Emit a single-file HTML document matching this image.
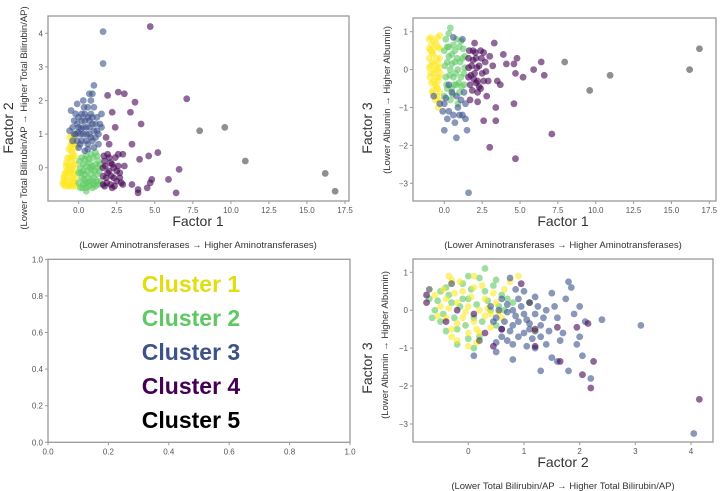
<!DOCTYPE html>
<html><head><meta charset="utf-8"><style>
body{margin:0;background:#fff;}
svg{display:block;font-family:"Liberation Sans",sans-serif;}
</style></head><body>
<svg id="c" width="720" height="491" viewBox="0 0 720 491"></svg>
<script>
const clusterColors=["#fde725","#5ec962","#3b528b","#440154","#444444"];
const ticks1X=[0,2.5,5,7.5,10,12.5,15,17.5];
const ticks1XLabels=["0.0","2.5","5.0","7.5","10.0","12.5","15.0","17.5"];
const ticks2Y=[0,1,2,3,4];
const ticks3Y=[-3,-2,-1,0,1];
const ticksF2X=[0,1,2,3,4];
const ticksLegend=[0,0.2,0.4,0.6,0.8,1.0];
const ticksLegendLabels=["0.0","0.2","0.4","0.6","0.8","1.0"];
const legendLabels=["Cluster 1","Cluster 2","Cluster 3","Cluster 4","Cluster 5"];
const legendColors=["#e3dd10","#5ec962","#3b528b","#440154","#000000"];

// Panel A: Factor1 vs Factor2
const pA_c1=[[-1,-0.5],[-0.9,-0.3],[-0.8,-0.1],[-0.7,0.1],[-0.6,0.3],[-0.5,0.5],[-0.4,0.7],[-0.3,0.9],[-0.9,-0.55],[-0.7,-0.55],[-0.5,-0.5],[-0.3,-0.5],[-0.2,-0.3],[-0.25,-0.1],[-0.3,0.1],[-0.35,0.3],[-0.45,0.2],[-0.55,0],[-0.6,-0.2],[-0.75,-0.35],[-0.4,-0.3],[-0.5,-0.1],[-0.65,0.55],[-0.45,0.75],[-0.85,-0.15],[-0.95,-0.4],[-0.2,-0.55],[-0.6,-0.4],[-0.4,0.45],[-0.3,-0.2],
[-1.05,-0.45],[-0.95,-0.2],[-0.85,0.05],[-0.75,0.3],[-0.8,-0.5],[-0.6,-0.55],[-0.4,-0.55],[-0.25,0.35],[-0.2,0.6],[-0.3,0.7],[-0.55,0.65],[-0.5,0.3],[-0.7,-0.15],[-0.45,-0.05],[-0.35,-0.4],[-0.2,0.1],[-0.6,0.9],[-0.45,0.95],[-0.25,-0.45],[-1.0,-0.3],[-0.8,0.15],[-0.65,0.0]];
const pA_c2=[[0.1,-0.6],[0.3,-0.5],[0.5,-0.6],[0.7,-0.55],[0.9,-0.6],[1.1,-0.55],[1.3,-0.5],[0.2,-0.3],[0.4,-0.2],[0.6,-0.3],[0.8,-0.2],[1.0,-0.3],[1.2,-0.2],[1.35,-0.1],[0.1,0],[0.3,0.1],[0.5,0.05],[0.7,0.15],[0.9,0.05],[1.1,0.1],[1.3,0.2],[0.2,0.3],[0.5,0.35],[0.8,0.4],[1.1,0.45],[0.5,-0.7],[0.0,-0.45],[1.4,-0.4],[0.6,-0.45],[0.95,-0.4],
[0.0,-0.15],[0.15,-0.15],[0.35,-0.35],[0.55,-0.1],[0.75,-0.4],[0.85,-0.05],[1.05,-0.1],[1.25,0.0],[1.2,-0.4],[0.4,0.25],[0.65,0.25],[0.95,0.3],[1.2,0.35],[0.05,0.2],[0.25,-0.6],[0.75,0.0],[1.0,-0.5],[0.45,-0.45],[0.3,-0.1],[1.4,0.1]];
const pA_c3=[[-0.4,0.8],[-0.2,1.0],[0,1.2],[0.2,1.4],[0.4,1.6],[0.6,1.8],[0.8,2.0],[-0.3,1.4],[-0.5,1.7],[-0.1,1.9],[0.3,2.0],[1.0,1.8],[1.2,1.5],[1.4,1.3],[1.0,1.1],[0.8,0.9],[0.6,0.7],[0.4,0.5],[0.2,0.8],[0,0.6],[0.5,1.2],[0.7,1.4],[0.9,1.5],[1.1,0.9],[1.3,0.7],[-0.1,1.3],[0.3,1.0],[0.7,1.0],[1.5,1.2],[0.9,2.2],[0.7,2.2],[1.0,2.45],[1.6,4.05],[1.6,3.1],[1.5,1.6],[-0.6,1.1],
[-0.3,1.0],[-0.1,0.8],[0.1,1.0],[0.3,1.2],[0.5,1.0],[0.7,1.2],[0.9,1.3],[1.1,1.3],[0.2,1.6],[0.0,1.5],[-0.2,1.6],[0.4,1.4],[0.6,1.5],[0.8,1.6],[1.2,1.1],[0.1,0.7],[0.5,0.8],[0.9,0.8],[1.3,1.0],[-0.4,1.2],[0.35,1.8],[0.15,1.15],[-0.05,1.05],[0.6,0.55],[1.0,0.6]];
const pA_c4=[[1.6,-0.5],[1.8,-0.3],[2.0,-0.1],[2.2,0.1],[2.4,0.3],[1.7,0.2],[1.9,0.4],[2.1,-0.5],[2.3,-0.3],[2.5,-0.1],[2.7,-0.3],[2.9,-0.5],[1.6,0],[2.6,0.4],[2.0,0.7],[2.2,-0.6],[1.8,0.9],[2.4,1.2],[2.8,-0.45],[3.5,-0.5],[4.7,4.2],[2.6,2.25],[3.0,2.2],[1.9,2.15],[7.1,2.05],[3.7,1.95],[2.2,1.65],[3.4,1.65],[4.1,1.3],[3.5,0.7],[5.2,0.45],[4.6,0.35],[4.0,0.25],[3.0,0.05],[6.6,-0.05],[4.8,-0.35],[5.9,-0.35],[4.7,-0.45],[4.5,-0.6],[3.9,-0.65],[3.9,-0.75],[6.4,-0.75],[2.9,0.4],
[1.6,-0.25],[1.7,-0.55],[1.9,-0.15],[2.1,0.15],[2.3,0.0],[2.5,-0.4],[1.65,0.35],[2.0,0.3],[2.35,-0.55],[1.85,-0.45],[2.6,0.05],[2.15,-0.25],[1.75,0.05],[2.7,-0.15]];
const pA_c5=[[7.95,1.1],[9.6,1.2],[10.95,0.2],[16.2,-0.17],[16.85,-0.7]];

// Panel B: Factor1 vs Factor3
const pB_c1=[[-1,0.8],[-0.9,0.5],[-0.8,0.2],[-0.7,-0.1],[-0.6,-0.4],[-0.5,-0.7],[-0.4,-1.0],[-0.3,0.9],[-0.4,0.6],[-0.5,0.3],[-0.6,0],[-0.7,-0.3],[-0.8,-0.6],[-0.9,0.1],[-0.3,0.3],[-0.35,-0.2],[-0.45,-0.5],[-0.55,0.7],[-0.75,0.4],[-0.95,-0.2],[-0.3,-0.6],[-0.85,0.65],[-0.5,0.0],[-0.4,-0.3],
[-1.0,0.55],[-1.0,0.3],[-1.0,0.05],[-0.9,-0.1],[-0.85,-0.35],[-0.8,0.45],[-0.7,0.75],[-0.65,0.15],[-0.55,-0.2],[-0.5,-0.45],[-0.45,0.85],[-0.4,0.15],[-0.35,-0.8],[-0.3,0.55],[-0.25,-0.1],[-0.6,-0.8],[-0.7,0.55],[-0.9,0.85],[-0.75,-0.55],[-0.3,0.05]];
const pB_c2=[[0.1,0.8],[0.3,0.6],[0.5,0.4],[0.7,0.2],[0.9,0],[1.1,-0.2],[1.3,-0.4],[0.2,0.2],[0.4,0],[0.6,-0.2],[0.8,-0.4],[1.0,-0.6],[0.2,-0.5],[0.4,-0.8],[1.2,0.3],[1.0,0.6],[0.8,0.8],[0.6,0.65],[0.1,-0.2],[1.35,0.05],[0.4,1.1],[0.3,0.95],[0.9,-0.9],[0.5,-0.5],
[0.0,0.5],[0.05,0.1],[0.15,-0.4],[0.3,0.35],[0.35,-0.15],[0.5,0.15],[0.55,-0.65],[0.7,0.5],[0.75,-0.1],[0.85,0.3],[0.95,-0.35],[1.05,0.2],[1.15,-0.45],[1.25,0.55],[1.3,-0.1],[0.2,0.6],[0.65,-0.4],[1.1,0.75],[0.0,-0.7],[1.35,0.35]];
const pB_c3=[[0,-0.9],[0.3,-1.1],[0.6,-1.2],[0.9,-1.0],[1.2,-1.2],[0.5,-0.6],[0.8,-0.7],[1.1,-0.8],[1.4,-0.9],[0.2,-1.3],[-0.1,-1.1],[0.7,-1.4],[1.4,-1.3],[0,-1.6],[0.8,-1.8],[1.5,-1.6],[1.6,-3.25],[-0.7,-0.7],[0.6,0.85],[1.2,0.8],[0.3,-0.4],[0.1,-0.75],[1.0,-1.2],[1.3,-0.6],[-0.3,-0.9]];
const pB_c4=[[1.6,0.3],[1.8,0.1],[2.0,-0.1],[2.2,-0.3],[2.4,-0.5],[1.7,-0.4],[1.9,0.5],[2.1,0.3],[2.3,0.1],[2.5,-0.1],[2.7,0.2],[2.9,-0.3],[1.6,-0.2],[2.6,0.45],[2.2,-0.6],[3.3,0.7],[2.0,0.7],[3.9,0.4],[4.8,0.3],[4.1,0.15],[4.6,0.15],[5.9,0.0],[6.4,0.2],[6.6,-0.15],[5.2,-0.2],[4.7,-0.1],[3.5,-0.3],[3.7,-0.4],[2.8,-0.7],[4.6,-0.9],[3.4,-1.0],[2.6,-1.35],[3.4,-1.35],[7.1,-1.7],[3.0,-2.05],[4.7,-2.35],[1.7,-0.8],[2.2,-0.85],[3.2,0.1],
[1.6,0.05],[1.75,-0.15],[1.9,0.25],[2.05,0.45],[2.15,0.05],[2.3,-0.45],[2.45,0.3],[1.85,-0.55],[2.6,-0.3],[2.1,-0.35],[2.4,0.5],[1.65,0.5],[2.75,-0.05],[3.0,0.35],[1.95,-0.25]];
const pB_c5=[[7.95,0.2],[9.6,-0.55],[10.95,-0.15],[16.2,0.0],[16.85,0.55]];

// Panel D: Factor2 vs Factor3
const pD_c2=[[-0.7,0.3],[-0.6,0.0],[-0.5,-0.3],[-0.4,0.6],[-0.3,0.2],[-0.2,-0.5],[-0.1,0.7],[0,0.3],[0.1,-0.2],[0.2,-0.7],[0.3,0.5],[0.4,0.0],[0.5,-0.4],[0.3,1.1],[0.0,0.9],[-0.2,-0.9],[0.1,-1.0],[0.6,0.4],[-0.5,0.5],[0.45,0.65],
[-0.65,-0.2],[-0.55,0.25],[-0.45,-0.1],[-0.35,0.4],[-0.25,-0.2],[-0.15,0.1],[-0.05,-0.4],[0.05,0.55],[0.15,0.15],[0.25,-0.3],[0.35,0.25],[0.55,0.1],[0.65,0.0],[0.7,0.3],[-0.4,-0.55],[0.0,-0.75],[0.2,0.85],[-0.1,0.3],[0.5,0.8],[0.8,0.2]];
const pD_c1=[[-0.6,0.4],[-0.5,0.1],[-0.4,-0.2],[-0.3,-0.5],[-0.2,-0.8],[-0.1,0.5],[0,0.1],[0.1,-0.3],[0.2,-0.6],[0.3,0.3],[0.4,-0.1],[0.5,0.2],[-0.3,0.8],[-0.1,-0.2],[0.0,-0.6],[0.1,0.6],[-0.4,0.3],[0.2,0.0],[0.9,0.9],[0.0,-0.95],[0.6,-0.2],
[-0.55,-0.15],[-0.45,0.55],[-0.35,0.05],[-0.25,0.45],[-0.2,-0.35],[-0.15,0.75],[-0.05,-0.05],[0.05,0.35],[0.15,-0.5],[0.25,0.65],[0.3,-0.15],[0.35,0.05],[0.45,0.45],[0.55,-0.05],[0.65,0.55],[-0.3,-0.7],[0.15,-0.85],[0.4,-0.45],[-0.2,0.2],[0.1,0.9],[-0.35,0.9],[0.75,0.75]];
const pD_c3=[[0.4,0.1],[0.5,-0.2],[0.6,-0.5],[0.7,-0.8],[0.8,0.0],[0.9,-0.3],[1.0,-0.6],[1.1,0.2],[1.2,-0.1],[1.3,-0.4],[0.6,0.3],[0.8,-0.9],[1.0,0.5],[1.4,0.0],[1.5,0.45],[1.6,-0.2],[1.7,-0.6],[1.9,-0.1],[2.0,0.1],[2.1,-0.3],[1.8,0.75],[1.85,0.6],[0.75,0.85],[1.3,-1.6],[1.8,-1.6],[2.2,-1.8],[1.6,-1.35],[2.05,-1.2],[0.8,-1.3],[0.1,-1.2],[2.0,-0.7],[1.95,-0.9],[1.5,-1.25],[2.4,-0.25],[3.1,-0.4],[4.05,-3.25],[1.4,-0.9],[1.2,-1.0],[0.5,-1.1],
[0.55,0.0],[0.65,-0.3],[0.7,0.15],[0.75,-0.55],[0.85,-0.15],[0.9,-0.7],[0.95,0.1],[1.05,-0.25],[1.1,-0.5],[1.15,-0.75],[1.25,0.1],[1.35,-0.2],[1.45,-0.55],[0.6,-0.7],[0.7,-0.05],[0.8,-0.4],[0.9,0.3],[1.0,-0.1],[1.1,-0.35],[1.2,0.35],[1.3,-0.7],[0.5,-0.85],[1.55,0.1],[1.65,-0.8],[1.75,0.3],[0.85,0.55],[0.45,-0.3],[1.05,-0.95]];
const pD_c4=[[4.15,-2.35],[2.2,-2.05],[2.05,-1.7],[2.25,-1.35],[1.65,-1.35],[2.15,-0.35],[1.95,-0.45],[1.6,-0.45],[0.95,0.7],[-0.75,0.4],[-0.75,0.2],[0.45,-0.95],[1.2,-0.5],[1.2,-0.95],[0.3,-0.6],[-0.4,-0.3],[0.6,-0.5],[0.1,-0.1],[-0.2,0.0]];
const pD_c5=[[-0.7,0.55],[1.1,0.2],[1.2,-0.55],[-0.3,0.7],[0.2,-0.8]];

const NS="http://www.w3.org/2000/svg";
const svg=document.getElementById('c');
function mk(tag,attrs,parent){const e=document.createElementNS(NS,tag);for(const k in attrs)e.setAttribute(k,attrs[k]);(parent||svg).appendChild(e);return e;}
function lin(d0,d1,r0,r1){return v=>r0+(v-d0)*(r1-r0)/(d1-d0);}

function panel(name,box,sx,sy,xt,xtl,yt,ytl){
  const g=mk('g',{});
  
  
  const f=mk('rect',{x:box[0],y:box[1],width:box[2]-box[0],height:box[3]-box[1],fill:'#fff',stroke:'#999','stroke-width':1.3},g);
  
  
  xt.forEach((t,i)=>{const x=sx(t);
    mk('line',{x1:x,x2:x,y1:box[3],y2:box[3]+3,stroke:'#999'},g);
    const tx=mk('text',{x:x,y:box[3]+12,'font-size':8,fill:'#555','text-anchor':'middle'},g);tx.textContent=xtl[i];
    
    });
  yt.forEach((t,i)=>{const y=sy(t);
    mk('line',{x1:box[0]-3,x2:box[0],y1:y,y2:y,stroke:'#999'},g);
    const tx=mk('text',{x:box[0]-5,y:y+3,'font-size':8,fill:'#555','text-anchor':'end'},g);tx.textContent=ytl[i];
    
    });
  return g;
}
function pts(g,arr,sx,sy,col,name){
  arr.forEach(p=>{const c=mk('circle',{cx:sx(p[0]),cy:sy(p[1]),r:3.4,fill:col,'fill-opacity':0.6},g);
    
    });
}
function txt(x,y,s,size,rot,name,col){
  const t=mk('text',{x:x,y:y,'font-size':size,fill:col||'#333','text-anchor':'middle',transform:rot?`rotate(-90 ${x} ${y})`:''});
  t.textContent=s;
  
  
  return t;
}
const ticksStr=a=>a.map(String);
const ticks3YL=["\u22123","\u22122","\u22121","0","1"];

// Panel A
let sx=lin(0,17.5,78.7,345),sy=lin(0,4,167.7,33.3);
let g=panel('factor1-vs-factor2-plot',[48,16,349,201],sx,sy,ticks1X,ticks1XLabels,ticks2Y,ticksStr(ticks2Y));
[pA_c1,pA_c2,pA_c3,pA_c4,pA_c5].forEach((a,i)=>pts(g,a,sx,sy,clusterColors[i],'point-cluster-'+(i+1)));
txt(198,226,'Factor 1',14,false,'x-axis-title');
txt(198,248,'(Lower Aminotransferases \u2192 Higher Aminotransferases)',9.5,false,'x-axis-subtitle');
txt(13,128,'Factor 2',14,true,'y-axis-title');
txt(27,118,'(Lower Total Bilirubin/AP \u2192 Higher Total Bilirubin/AP)',9.5,true,'y-axis-subtitle');

// Panel B
sx=lin(0,17.5,444.3,709.3);sy=lin(-3,1,183.3,31.7);
g=panel('factor1-vs-factor3-plot',[413,18,716,201],sx,sy,ticks1X,ticks1XLabels,ticks3Y,ticks3YL);
[pB_c1,pB_c2,pB_c3,pB_c4,pB_c5].forEach((a,i)=>pts(g,a,sx,sy,clusterColors[i],'point-cluster-'+(i+1)));
txt(563,226,'Factor 1',14,false,'x-axis-title');
txt(563,248,'(Lower Aminotransferases \u2192 Higher Aminotransferases)',9.5,false,'x-axis-subtitle');
txt(372,128,'Factor 3',14,true,'y-axis-title');
txt(390,100,'(Lower Albumin \u2192 Higher Albumin)',9.5,true,'y-axis-subtitle');

// Panel C legend
sx=lin(0,1,48,350);sy=lin(0,1,442.3,259.3);
g=panel('cluster-legend-panel',[48,259.3,350,442.3],sx,sy,ticksLegend,ticksLegendLabels,ticksLegend,ticksLegendLabels);
legendLabels.forEach((l,i)=>{const t=txt(191,292+i*34,l,23,false,'legend-entry-'+(i+1),legendColors[i]);t.setAttribute('font-weight','bold');});

// Panel D
sx=lin(0,4,468.3,691);sy=lin(-3,1,424,272.3);
g=panel('factor2-vs-factor3-plot',[413,259,713,442],sx,sy,ticksF2X,ticksStr(ticksF2X),ticks3Y,ticks3YL);
[[pD_c2,1],[pD_c1,0],[pD_c3,2],[pD_c4,3],[pD_c5,4]].forEach(a=>pts(g,a[0],sx,sy,clusterColors[a[1]],'point-cluster-'+(a[1]+1)));
txt(563,467,'Factor 2',14,false,'x-axis-title');
txt(563,489,'(Lower Total Bilirubin/AP \u2192 Higher Total Bilirubin/AP)',9.5,false,'x-axis-subtitle');
txt(372,368,'Factor 3',14,true,'y-axis-title');
txt(388,345,'(Lower Albumin \u2192 Higher Albumin)',9.5,true,'y-axis-subtitle');
</script>
</body></html>
